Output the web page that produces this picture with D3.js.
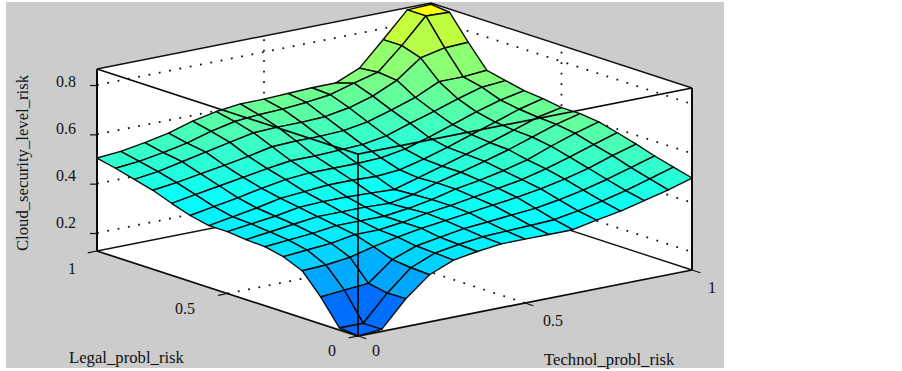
<!DOCTYPE html>
<html>
<head>
<meta charset="utf-8">
<script src="https://cdn.jsdelivr.net/npm/d3@7"></script>
<style>
  html, body { margin: 0; padding: 0; background: #fff; }
  svg { display: block; }
  text { font-family: "Liberation Serif", serif; fill: #111; }
</style>
</head>
<body>
<script>
var technolLevels = [0, 0.071, 0.143, 0.214, 0.286, 0.357, 0.429, 0.5, 0.571, 0.643, 0.714, 0.786, 0.857, 0.929, 1];
var legalLevels = [0, 0.071, 0.143, 0.214, 0.286, 0.357, 0.429, 0.5, 0.571, 0.643, 0.714, 0.786, 0.857, 0.929, 1];

// one row per legal level, one column per technol level
var riskRows = [
  [.127,.135,.240,.318,.358,.374,.386,.386,.386,.386,.406,.423,.447,.471,.500],
  [.135,.135,.238,.322,.362,.378,.390,.394,.398,.402,.419,.439,.463,.491,.520],
  [.236,.245,.253,.330,.366,.382,.398,.406,.415,.423,.439,.459,.483,.512,.540],
  [.318,.322,.334,.358,.378,.394,.406,.419,.431,.443,.459,.479,.504,.536,.564],
  [.350,.358,.366,.382,.382,.394,.411,.423,.439,.455,.471,.496,.524,.556,.585],
  [.366,.374,.382,.394,.394,.394,.406,.423,.447,.463,.483,.508,.544,.577,.605],
  [.370,.382,.394,.406,.406,.406,.402,.419,.447,.471,.496,.524,.556,.589,.613],
  [.378,.390,.402,.419,.423,.423,.419,.415,.443,.471,.500,.528,.560,.593,.613],
  [.378,.394,.411,.431,.439,.447,.447,.443,.451,.475,.504,.536,.568,.601,.625],
  [.394,.411,.427,.447,.463,.471,.471,.471,.475,.491,.520,.552,.585,.613,.633],
  [.419,.435,.451,.467,.483,.496,.496,.500,.504,.520,.552,.581,.613,.641,.649],
  [.447,.459,.475,.491,.508,.528,.532,.532,.536,.552,.581,.613,.658,.658,.666],
  [.467,.479,.500,.520,.540,.560,.564,.564,.568,.585,.613,.658,.730,.751,.755],
  [.487,.496,.512,.532,.560,.581,.589,.593,.601,.613,.641,.666,.755,.856,.852],
  [.504,.512,.528,.548,.577,.597,.609,.609,.613,.617,.617,.658,.755,.856,.860]
];

var zTicks = [0.2, 0.4, 0.6, 0.8];
var floorTicks = [0, 0.5, 1];
var zRange = [0.127, 0.865];

var width = 902;
var height = 371;

// the oblique view: each data axis moves a point along its own screen direction
var xTechnol = d3.scaleLinear().domain([0, 1]).range([358, 692]);
var xLegal = d3.scaleLinear().domain([0, 1]).range([0, -261]);
var yTechnol = d3.scaleLinear().domain([0, 1]).range([336, 270]);
var yLegal = d3.scaleLinear().domain([0, 1]).range([0, -85]);
var zLift = d3.scaleLinear().domain(zRange).range([0, 182]);

// the labels do not sit evenly against their ticks in the original
var zLabelY = d3.scaleLinear().domain([0.2, 0.8]).range([228, 87]);
var legalLabelX = d3.scaleLinear().domain(floorTicks).range([332, 185, 72]);
var legalLabelY = d3.scaleLinear().domain(floorTicks).range([356, 314, 274]);
var technolLabelX = d3.scaleLinear().domain(floorTicks).range([376, 553, 712]);
var technolLabelY = d3.scaleLinear().domain(floorTicks).range([356, 326, 293]);

// colormap is jet, clipped at blue and yellow by the z limits
var color = d3.scaleLinear()
  .domain([-0.065, 0.4, 0.865])
  .range(['#0000ff', '#00ffff', '#ffff00']);

function px(t, l) { return xTechnol(t) + xLegal(l); }
function py(t, l, z) { return yTechnol(t) + yLegal(l) - zLift(z); }
function pt(t, l, z) { return [px(t, l), py(t, l, z)]; }

var line = d3.line();
var zLow = zRange[0];
var zTop = zRange[1];

var svg = d3.select('body')
  .append('svg')
  .attr('width', width)
  .attr('height', height);

// grey figure background
svg.append('rect')
  .attr('x', 6).attr('y', 2)
  .attr('width', 718).attr('height', 366)
  .attr('fill', '#cccccc');

// white inside of the box
svg.append('path')
  .attr('fill', '#fff')
  .attr('d', line([pt(0, 1, zTop), pt(1, 1, zTop), pt(1, 0, zTop), pt(1, 0, zLow), pt(0, 0, zLow), pt(0, 1, zLow)]) + 'Z');

// dotted grid on the walls and floor
var gridLines = [];
zTicks.forEach(function (z) {
  gridLines.push([pt(0, 1, z), pt(1, 1, z), pt(1, 0, z)]);
});
gridLines.push([pt(0.5, 0, zLow), pt(0.5, 1, zLow), pt(0.5, 1, zTop)]);
gridLines.push([pt(0, 0.5, zLow), pt(1, 0.5, zLow), pt(1, 0.5, zTop)]);

svg.selectAll('.grid')
  .data(gridLines)
  .enter()
  .append('path')
    .attr('class', 'grid')
    .attr('d', line)
    .attr('fill', 'none')
    .attr('stroke', '#111')
    .attr('stroke-width', 1.8)
    .attr('stroke-dasharray', '1.8 8.7');

// back edges of the box
var backEdges = [
  [pt(0, 1, zTop), pt(1, 1, zTop), pt(1, 0, zTop)],
  [pt(0, 1, zLow), pt(1, 1, zLow), pt(1, 0, zLow)],
  [pt(1, 1, zLow), pt(1, 1, zTop)]
];
svg.selectAll('.back')
  .data(backEdges)
  .enter()
  .append('path')
    .attr('class', 'back')
    .attr('d', line)
    .attr('fill', 'none')
    .attr('stroke', '#111')
    .attr('stroke-width', 1.4);

// surface cells, far corner first so near cells paint over them
var cells = [];
d3.range(legalLevels.length - 2, -1, -1).forEach(function (i) {
  d3.range(technolLevels.length - 2, -1, -1).forEach(function (j) {
    cells.push({
      z: riskRows[i][j],
      corners: [
        pt(technolLevels[j], legalLevels[i], riskRows[i][j]),
        pt(technolLevels[j + 1], legalLevels[i], riskRows[i][j + 1]),
        pt(technolLevels[j + 1], legalLevels[i + 1], riskRows[i + 1][j + 1]),
        pt(technolLevels[j], legalLevels[i + 1], riskRows[i + 1][j])
      ]
    });
  });
});

svg.selectAll('.cell')
  .data(cells)
  .enter()
  .append('path')
    .attr('class', 'cell')
    .attr('d', function (d) { return line(d.corners) + 'Z'; })
    .attr('fill', function (d) { return color(d.z); })
    .attr('stroke', '#0a0a0a')
    .attr('stroke-width', 1.4)
    .attr('stroke-linejoin', 'round');

// front edges of the box go over the surface
var frontEdges = [
  [pt(0, 1, zTop), pt(0, 0, zTop), pt(1, 0, zTop)],
  [pt(0, 1, zLow), pt(0, 0, zLow), pt(1, 0, zLow)],
  [pt(0, 0, zLow), pt(0, 0, zTop)]
];
svg.selectAll('.front')
  .data(frontEdges)
  .enter()
  .append('path')
    .attr('class', 'front')
    .attr('d', line)
    .attr('fill', 'none')
    .attr('stroke', '#0a0a0a')
    .attr('stroke-width', 1.7);

// the two outer uprights are drawn heavier
var sideEdges = [
  [pt(0, 1, zLow), pt(0, 1, zTop)],
  [pt(1, 0, zLow), pt(1, 0, zTop)]
];
svg.selectAll('.side')
  .data(sideEdges)
  .enter()
  .append('path')
    .attr('class', 'side')
    .attr('d', line)
    .attr('fill', 'none')
    .attr('stroke', '#0a0a0a')
    .attr('stroke-width', 2);

// z axis on the left edge of the box
var zAxisScale = d3.scaleLinear()
  .domain(zRange)
  .range([py(0, 1, zLow), py(0, 1, zTop)]);

var zAxis = d3.axisLeft(zAxisScale)
  .tickValues(zTicks)
  .tickSize(7)
  .tickPadding(14)
  .tickFormat(d3.format('.1f'));

var zAxisG = svg.append('g')
  .attr('transform', 'translate(' + px(0, 1) + ',0)')
  .call(zAxis);
zAxisG.select('.domain').remove();
zAxisG.selectAll('line').attr('stroke', '#111').attr('stroke-width', 1.2);
zAxisG.selectAll('text')
  .attr('dy', '-0.05em')
  .attr('y', function (d) { return zLabelY(d) - zAxisScale(d); })
  .style('font-family', '"Liberation Serif", serif')
  .style('font-size', '16px')
  .attr('fill', '#111');

// floor ticks, drawn along the other floor axis
svg.selectAll('.legal-tick')
  .data(floorTicks)
  .enter()
  .append('path')
    .attr('class', 'legal-tick')
    .attr('d', function (d) { return line([pt(0, d, zLow), pt(-0.028, d, zLow)]); })
    .attr('stroke', '#111')
    .attr('stroke-width', 1.2);

svg.selectAll('.technol-tick')
  .data(floorTicks)
  .enter()
  .append('path')
    .attr('class', 'technol-tick')
    .attr('d', function (d) { return line([pt(d, 0, zLow), pt(d, -0.032, zLow)]); })
    .attr('stroke', '#111')
    .attr('stroke-width', 1.2);

// floor tick labels
svg.selectAll('.legal-label')
  .data(floorTicks)
  .enter()
  .append('text')
    .attr('class', 'legal-label')
    .attr('x', function (d) { return legalLabelX(d); })
    .attr('y', function (d) { return legalLabelY(d); })
    .attr('text-anchor', 'middle')
    .style('font-size', '16px')
    .text(function (d) { return d; });

svg.selectAll('.technol-label')
  .data(floorTicks)
  .enter()
  .append('text')
    .attr('class', 'technol-label')
    .attr('x', function (d) { return technolLabelX(d); })
    .attr('y', function (d) { return technolLabelY(d); })
    .attr('text-anchor', 'middle')
    .style('font-size', '16px')
    .text(function (d) { return d; });

// axis titles
svg.append('text')
  .attr('x', 69).attr('y', 363)
  .style('font-size', '16.7px')
  .text('Legal_probl_risk');

svg.append('text')
  .attr('x', 544).attr('y', 365)
  .style('font-size', '16.7px')
  .text('Technol_probl_risk');

svg.append('text')
  .attr('transform', 'translate(27.5,163)rotate(-90)')
  .attr('text-anchor', 'middle')
  .style('font-size', '16.7px')
  .text('Cloud_security_level_risk');
</script>
</body>
</html>
